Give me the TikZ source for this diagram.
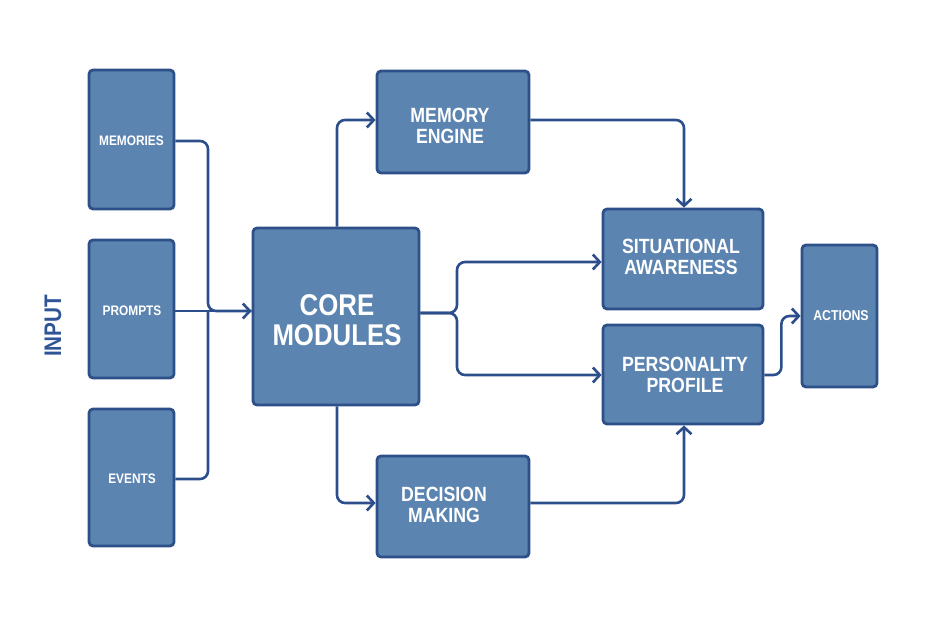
\documentclass[tikz,border=0pt]{standalone}
\usepackage{fontspec}
\setsansfont[FakeStretch=0.86]{Liberation Sans}
\usetikzlibrary{arrows.meta}
\definecolor{boxfill}{HTML}{5B84B1}
\definecolor{boxline}{HTML}{2E5089}
\definecolor{conncol}{HTML}{2C4F8C}
\definecolor{inputcol}{HTML}{2F5597}
\tikzset{
  blk/.style={draw=boxline, fill=boxfill, line width=2.8pt, rounded corners=4pt, inner sep=0pt},
  txt/.style={text=white, font=\sffamily\bfseries, align=center},
  smalltxt/.style={txt, font=\sffamily\bfseries\fontsize{13.8}{16}\selectfont},
  midtxt/.style={txt, font=\sffamily\bfseries\fontsize{20.6}{21}\selectfont},
  bigtxt/.style={txt, font=\sffamily\bfseries\fontsize{30}{30}\selectfont},
  conn/.style={draw=conncol, line width=2.6pt, rounded corners=8pt},
  arr/.style={conn, -{Straight Barb[length=7pt,width=15pt,line width=2.6pt]}}
}
\begin{document}
\begin{tikzpicture}[x=1pt,y=-1pt]
\useasboundingbox (0,0) rectangle (938,634);
% input boxes
\node[blk, minimum width=85pt, minimum height=139pt] (mem) at (131.5,139.5) {};
\node[blk, minimum width=85pt, minimum height=138pt] (pro) at (131.5,309) {};
\node[blk, minimum width=85pt, minimum height=137pt] (evt) at (131.5,477.5) {};
\node[smalltxt] (memt) at (131.5,141) {MEMORIES};
\node[smalltxt] (prot) at (132,311) {PROMPTS};
\node[smalltxt] (evtt) at (132,479) {EVENTS};
\node[text=inputcol, font=\sffamily\bfseries\fontsize{24}{24}\selectfont, rotate=90] (inp) at (53,326) {INPUT};
% core
\node[blk, minimum width=166pt, minimum height=177pt] (core) at (336,316.5) {};
\node[bigtxt] (coret) at (337,320) {CORE\\MODULES};
% middle boxes
\node[blk, minimum width=152pt, minimum height=102pt] (me) at (453,122) {};
\node[midtxt] (met) at (450,126) {MEMORY\\ENGINE};
\node[blk, minimum width=152pt, minimum height=101pt] (dm) at (453,506.5) {};
\node[midtxt] (dmt) at (444,505) {DECISION\\MAKING};
\node[blk, minimum width=160pt, minimum height=100pt] (sa) at (683,259) {};
\node[midtxt] (sat) at (681,257) {SITUATIONAL\\AWARENESS};
\node[blk, minimum width=160pt, minimum height=99pt] (pp) at (683,374.5) {};
\node[midtxt] (ppt) at (685,375) {PERSONALITY\\PROFILE};
\node[blk, minimum width=75pt, minimum height=142pt] (act) at (839.5,316) {};
\node[smalltxt, font=\sffamily\bfseries\fontsize{14.3}{16}\selectfont] (actt) at (841,316) {ACTIONS};
% junctions
\coordinate (jl) at (208,311);
\coordinate (jr) at (457,313);
% connectors
\draw[conn] (mem.east |- 0,141) -| (jl) -- (core.west |- jl);
\draw[conn] (evt.east |- 0,479) -| (jl);
\draw[arr] (pro.east |- jl) -- (core.west |- jl);
\draw[arr] (core.north -| 337,0) |- (me.west |- 0,120);
\draw[arr] (core.south -| 337,0) |- (dm.west |- 0,503);
\draw[arr] (core.east |- jr) -- (jr) |- (sa.west |- 0,262);
\draw[arr] (core.east |- jr) -- (jr) |- (pp.west |- 0,375);
\draw[arr] (me.east |- 0,120) -| (sa.north -| 684,0);
\draw[arr] (dm.east |- 0,503) -| (pp.south -| 684,0);
\draw[arr] (pp.east |- 0,375) -- ++(17,0) |- (act.west);
\end{tikzpicture}
\end{document}
